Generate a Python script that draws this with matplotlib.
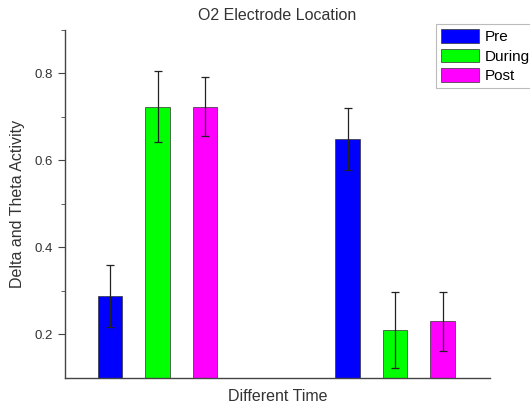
import matplotlib.pyplot as plt
import numpy as np

plt.rcParams['font.family'] = ['Liberation Sans', 'DejaVu Sans']

# two time groups, three conditions each
labels = ["Pre", "During", "Post"]
colors = ["#0000ff", "#00ff00", "#ff00ff"]
group1 = [0.289, 0.724, 0.724]
group1_err = [0.071, 0.082, 0.067]
group2 = [0.650, 0.211, 0.230]
group2_err = [0.071, 0.087, 0.067]

fig = plt.figure(figsize=(5.3, 4.07), dpi=100)
ax = fig.add_axes([0.1226, 0.0713, 0.802, 0.855])

x1 = np.arange(3)
x2 = np.arange(3) + 5
for i in range(3):
    ax.bar([x1[i], x2[i]], [group1[i], group2[i]], width=0.52, color=colors[i],
           edgecolor="#333333", linewidth=0.5, label=labels[i],
           yerr=[group1_err[i], group2_err[i]], capsize=3,
           error_kw=dict(ecolor="#222222", elinewidth=0.9, capthick=0.9))

ax.set_xlim(-0.95, 8.0)
ax.set_ylim(0.1, 0.9)
ax.set_yticks([0.2, 0.4, 0.6, 0.8])
ax.set_yticks([0.3, 0.5, 0.7, 0.9], minor=True)
ax.set_xticks([])
for s in ["top", "right"]:
    ax.spines[s].set_visible(False)
for s in ["left", "bottom"]:
    ax.spines[s].set_color("#444444")
    ax.spines[s].set_linewidth(1.0)
ax.tick_params(axis="y", which="major", length=5, color="#444444", labelsize=9.5, labelcolor="#333333")
ax.tick_params(axis="y", which="minor", length=3, color="#444444")

ax.set_title("O2 Electrode Location", fontsize=11.5, color="#333333", pad=7)
ax.set_xlabel("Different Time", fontsize=11.5, color="#333333", labelpad=8)
ax.set_ylabel("Delta and Theta Activity", fontsize=11.5, color="#333333", labelpad=7)

leg = fig.legend(loc="upper left", bbox_to_anchor=(0.823, 0.94), fontsize=11,
                 frameon=True, fancybox=False, edgecolor="#aaaaaa",
                 handlelength=2.5, handleheight=1.0, handletextpad=0.4,
                 labelspacing=0.3, borderpad=0.3, borderaxespad=0)
leg.get_frame().set_linewidth(0.8)

fig.savefig("out.png", dpi=100)
